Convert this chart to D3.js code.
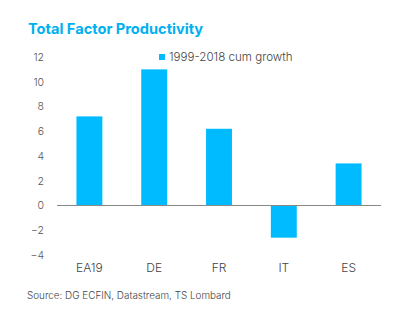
<!DOCTYPE html>
<html>
<head>
<meta charset="utf-8">
<script src="https://cdn.jsdelivr.net/npm/d3@7"></script>
<style>
body { margin: 0; background: #fff; }
text { font-family: Inter, "Noto Sans", sans-serif; font-weight: 300; }
</style>
</head>
<body>
<div id="chart"></div>
<script>
var categories = ["EA19", "DE", "FR", "IT", "ES"];
var values = [7.2, 11.0, 6.2, -2.6, 3.4];
var yTicks = [-4, -2, 0, 2, 4, 6, 8, 10, 12];
var seriesName = "1999-2018 cum growth";

var width = 405, height = 323;
var svg = d3.select("#chart").append("svg")
    .attr("width", width).attr("height", height);

var x = d3.scaleBand().domain(categories).range([57, 381]).paddingInner(0.6).paddingOuter(0.3);
var y = d3.scaleLinear().domain([-4, 12]).range([255, 57]);

svg.append("text")   // title
    .attr("x", 28).attr("y", 34)
    .attr("fill", "#00b0f0")
    .attr("font-size", "14.6px")
    .style("font-weight", "bold")
    .text("Total Factor Productivity");

svg.append("g").selectAll("rect")
    .data(values)
    .enter().append("rect")
    .attr("x", function(d, i) { return x(categories[i]); })
    .attr("width", x.bandwidth())
    .attr("y", function(d) { return y(Math.max(0, d)); })
    .attr("height", function(d) { return Math.abs(y(d) - y(0)); })
    .attr("fill", "#00bbff");

var yAxis = svg.append("g")
    .attr("transform", "translate(44,0)")
    .call(d3.axisLeft(y).tickValues(yTicks).tickSize(0).tickPadding(0));
yAxis.select(".domain").remove();
yAxis.selectAll("text")
    .attr("fill", "#555")
    .attr("font-size", "10.5px")
    .attr("font-family", "Inter, 'Noto Sans', sans-serif");

svg.append("line")   // zero line
    .attr("x1", 57).attr("x2", 381)
    .attr("y1", y(0)).attr("y2", y(0))
    .attr("stroke", "#888").attr("stroke-width", 1);

var xAxis = svg.append("g")
    .attr("transform", "translate(0,263)")
    .call(d3.axisBottom(x).tickSize(0).tickPadding(0));
xAxis.select(".domain").remove();
xAxis.selectAll("text")
    .attr("fill", "#444")
    .attr("font-size", "12px")
    .attr("font-family", "Inter, 'Noto Sans', sans-serif");

var legend = svg.append("g").attr("transform", "translate(159,54)");
legend.append("rect").attr("width", 6).attr("height", 6).attr("fill", "#00bbff");
legend.append("text").attr("x", 10).attr("y", 6.5)
    .attr("fill", "#444").attr("font-size", "11.6px")
    .text(seriesName);

svg.append("text")   // source
    .attr("x", 27).attr("y", 299)
    .attr("fill", "#444").attr("font-size", "9.9px")
    .text("Source: DG ECFIN, Datastream, TS Lombard");
</script>
</body>
</html>
